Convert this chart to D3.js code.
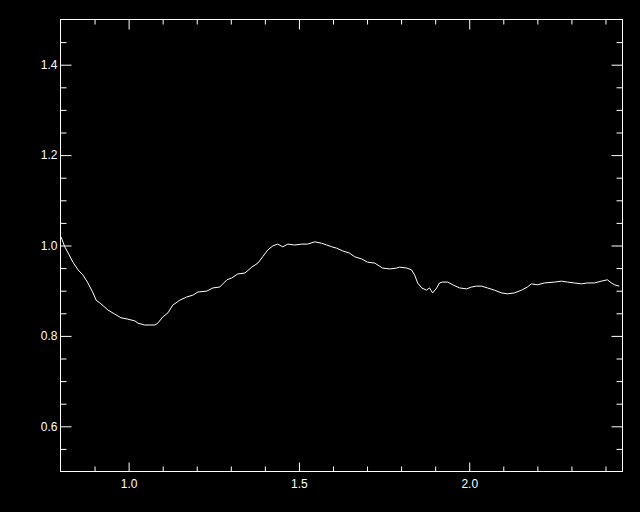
<!DOCTYPE html>
<html>
<head>
<meta charset="utf-8">
<script src="https://cdn.jsdelivr.net/npm/d3@7"></script>
<style>
  html, body { margin: 0; padding: 0; background: #000; }
  svg { display: block; }
  .tick text { font-family: "Liberation Sans", Arial, sans-serif; font-size: 12px; fill: #fff; }
</style>
</head>
<body>
<svg id="chart" width="640" height="512"></svg>
<script>
// curve values
const xValues = [0.803, 0.814, 0.824, 0.838, 0.853, 0.867, 0.882, 0.897, 0.906, 0.920,
  0.941, 0.961, 0.979, 0.999, 1.020, 1.029, 1.049, 1.079, 1.087, 1.102,
  1.117, 1.131, 1.152, 1.172, 1.190, 1.205, 1.231, 1.249, 1.269, 1.290,
  1.304, 1.322, 1.343, 1.363, 1.381, 1.395, 1.410, 1.425, 1.439, 1.454,
  1.469, 1.489, 1.510, 1.527, 1.548, 1.568, 1.583, 1.598, 1.612, 1.630,
  1.650, 1.665, 1.686, 1.703, 1.724, 1.747, 1.768, 1.788, 1.797, 1.818,
  1.832, 1.841, 1.850, 1.862, 1.876, 1.885, 1.894, 1.906, 1.914, 1.923,
  1.938, 1.953, 1.973, 1.994, 2.008, 2.023, 2.038, 2.055, 2.076, 2.096,
  2.114, 2.134, 2.155, 2.172, 2.184, 2.202, 2.222, 2.252, 2.272, 2.290,
  2.310, 2.331, 2.348, 2.369, 2.389, 2.407, 2.419, 2.428, 2.442];
const yValues = [1.018, 0.996, 0.982, 0.962, 0.945, 0.934, 0.916, 0.894, 0.878, 0.870,
  0.856, 0.847, 0.839, 0.836, 0.832, 0.827, 0.823, 0.823, 0.827, 0.841,
  0.850, 0.867, 0.878, 0.885, 0.889, 0.896, 0.898, 0.905, 0.907, 0.923,
  0.927, 0.936, 0.938, 0.951, 0.960, 0.974, 0.989, 0.998, 1.002, 0.996,
  1.002, 1.000, 1.002, 1.002, 1.007, 1.004, 1.000, 0.996, 0.993, 0.987,
  0.982, 0.974, 0.969, 0.962, 0.960, 0.949, 0.947, 0.949, 0.951, 0.949,
  0.945, 0.934, 0.916, 0.905, 0.900, 0.905, 0.894, 0.905, 0.916, 0.918,
  0.918, 0.912, 0.905, 0.903, 0.907, 0.909, 0.909, 0.905, 0.900, 0.894,
  0.892, 0.894, 0.900, 0.907, 0.914, 0.912, 0.916, 0.918, 0.920, 0.918,
  0.916, 0.914, 0.916, 0.916, 0.920, 0.923, 0.916, 0.912, 0.909];

const xDomain = [0.8, 2.45];
const yDomain = [0.5, 1.5];
const xMajorTicks = [1.0, 1.5, 2.0];
const xMinorTicks = [0.9, 1.1, 1.2, 1.3, 1.4, 1.6, 1.7, 1.8, 1.9, 2.1, 2.2, 2.3, 2.4];
const yMajorTicks = [0.6, 0.8, 1.0, 1.2, 1.4];
const yMinorTicks = [0.55, 0.65, 0.7, 0.75, 0.85, 0.9, 0.95, 1.05, 1.1, 1.15, 1.25, 1.3, 1.35, 1.45];

const svg = d3.select("#chart");
const plotL = 60, plotR = 622, plotT = 19, plotB = 471;

const x = d3.scaleLinear().domain(xDomain).range([plotL, plotR]);
const y = d3.scaleLinear().domain(yDomain).range([plotB, plotT]);
const fmt = d3.format(".1f");

// ticks: major with labels, minor shorter and unlabeled
function addAxis(axisFn, scale, values, size, pos, labelled, padding) {
    const ax = axisFn(scale)
        .tickValues(values)
        .tickSizeInner(size)
        .tickSizeOuter(0)
        .tickPadding(padding)
        .tickFormat(labelled ? fmt : "");
    const grp = svg.append("g").attr("transform", pos).call(ax);
    grp.select(".domain").remove();
    grp.selectAll("line").attr("stroke", "#fff").attr("stroke-width", 1);
    return grp;
}

const px = 0.5;
addAxis(d3.axisBottom, x, xMajorTicks, -9, `translate(${px},${plotB + px})`, true, 8);
addAxis(d3.axisBottom, x, xMinorTicks, -5, `translate(${px},${plotB + px})`, false, 0);
addAxis(d3.axisTop, x, xMajorTicks, -10, `translate(${px},${plotT + px})`, false, 0);
addAxis(d3.axisTop, x, xMinorTicks, -5, `translate(${px},${plotT + px})`, false, 0);
addAxis(d3.axisLeft, y, yMajorTicks, -11, `translate(${plotL + px},${px})`, true, 3);
addAxis(d3.axisLeft, y, yMinorTicks, -6, `translate(${plotL + px},${px})`, false, 0);
addAxis(d3.axisRight, y, yMajorTicks, -11, `translate(${plotR + px},${px})`, false, 0);
addAxis(d3.axisRight, y, yMinorTicks, -6, `translate(${plotR + px},${px})`, false, 0);

// frame
svg.append("rect")
    .attr("x", plotL + px).attr("y", plotT + px)
    .attr("width", plotR - plotL).attr("height", plotB - plotT)
    .attr("fill", "none").attr("stroke", "#fff").attr("stroke-width", 1);

svg.append("clipPath").attr("id", "plot")
    .append("rect")
    .attr("x", plotL).attr("y", plotT)
    .attr("width", plotR - plotL).attr("height", plotB - plotT);

const pts = xValues.map((v, i) => [v, yValues[i]]);
const line = d3.line().x(d => x(d[0])).y(d => y(d[1]));

svg.append("path")
    .datum(pts)
    .attr("clip-path", "url(#plot)")
    .attr("d", line)
    .attr("fill", "none")
    .attr("stroke", "#fff")
    .attr("stroke-width", 1);
</script>
</body>
</html>
